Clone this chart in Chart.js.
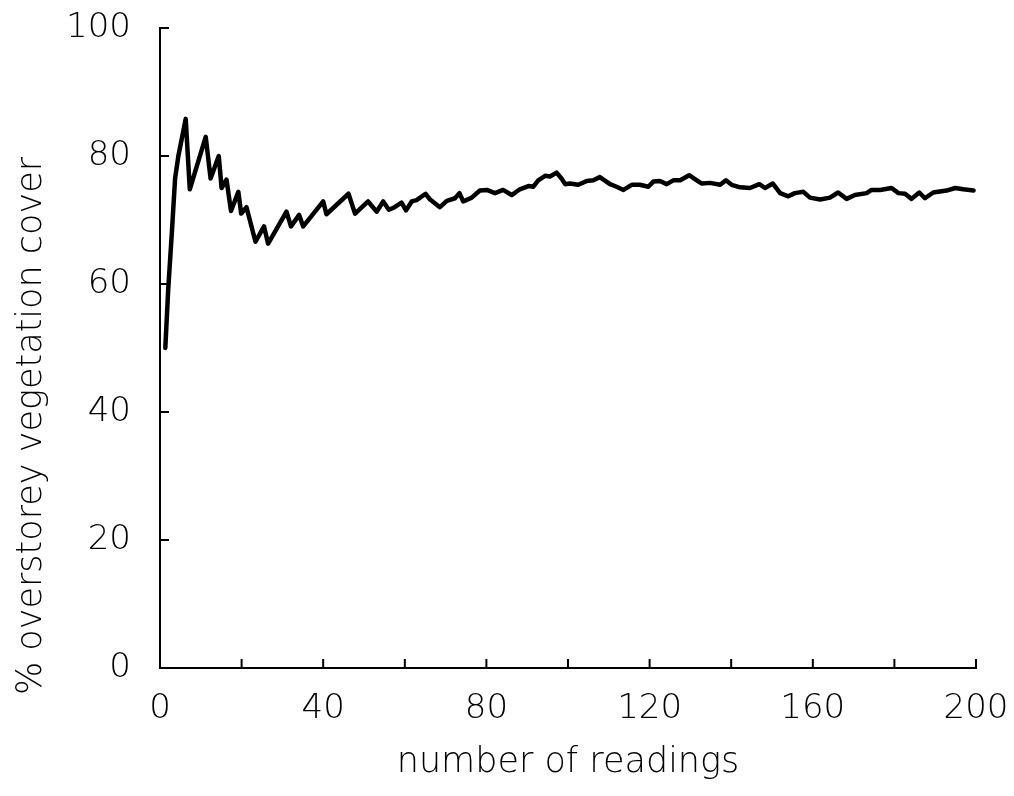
<!DOCTYPE html>
<html>
<head>
<meta charset="utf-8">
<script src="https://cdn.jsdelivr.net/npm/chart.js@4.4.1/dist/chart.umd.min.js"></script>
<style>
  html, body { margin: 0; padding: 0; background: #fff; }
  canvas { display: block; }
</style>
</head>
<body>
<canvas id="coverChart" width="1014" height="796"></canvas>
<script>
// cumulative mean of overstorey cover
const readings = [
  1.3, 2.0, 2.9, 3.7, 4.5, 6.3, 7.3, 11.2, 12.4, 14.4, 15.1, 16.3, 17.4, 19.2, 19.9,
  21.2, 23.4, 25.5, 26.5, 31, 32.1, 34.1, 35.1, 40, 40.8, 46.2, 47.8, 51, 53.1, 54.7,
  56.1, 57.5, 59.2, 60.3, 61.7, 62.9, 65.1, 66.2, 68.6, 70.3, 72.3, 73.4, 74.3, 76.4,
  78.4, 80.1, 82.1, 84.1, 86.2, 88.2, 90.3, 91.5, 92.7, 94.4, 95.6, 97.2, 98.5, 99.3,
  100.5, 102.5, 104.6, 106.2, 107.8, 110.3, 111.9, 113.6, 115.6, 117.6, 119.7, 120.9,
  122.5, 124.2, 125.8, 127.5, 129.7, 131.1, 132.8, 134.8, 137.3, 138.7, 140.1, 142.2,
  144.6, 146.9, 148.3, 150.2, 152, 154, 155.6, 157.7, 159.3, 161.8, 164.2, 166.2,
  168.3, 170.3, 173.2, 174.4, 176.5, 179.3, 181, 182.6, 184.2, 186.1, 187.5, 189.5,
  192.8, 194.9, 196.9, 199.4
];
const cover = [
  50, 59, 68, 76.5, 80, 85.8, 74.8, 83, 76.5, 80, 75, 76.3, 71.4, 74.4, 71,
  72, 66.6, 69, 66.3, 71.3, 69, 70.8, 69, 72.9, 70.9, 74.1, 71, 72.9, 71.3, 72.9,
  71.6, 72, 72.7, 71.5, 72.9, 73.1, 74.1, 73.2, 72, 73, 73.4, 74.2, 72.9, 73.5,
  74.6, 74.7, 74.2, 74.7, 73.9, 74.8, 75.3, 75.2, 76.2, 76.9, 76.8, 77.4, 76.4, 75.6,
  75.7, 75.5, 76.1, 76.2, 76.7, 75.6, 75.2, 74.7, 75.5, 75.5, 75.2, 76,
  76.1, 75.6, 76.2, 76.2, 77, 76.4, 75.7, 75.8, 75.5, 76.2, 75.5, 75.1,
  75, 75.6, 75, 75.7, 74.2, 73.7, 74.2, 74.4, 73.5, 73.2, 73.5, 74.3,
  73.3, 73.9, 74.2, 74.7, 74.7, 75, 74.2, 74.1, 73.3, 74.3, 73.4, 74.3,
  74.6, 75, 74.8, 74.6
];
const xTickLabels = [0, 40, 80, 120, 160, 200];
const yTickLabels = [0, 20, 40, 60, 80, 100];

const xTitle = 'number of readings';
const yTitle = '% overstorey vegetation cover';

const FONT = "'DejaVu Sans', sans-serif";
const TICK_LEN = 9;

// y title drawn by hand so it can sit lower than the axis centre,
// and tick marks pointing into the plot (from the scales' own ticks)
const framePlugin = {
    id: 'frame',
    afterDraw(chart) {
        const ctx = chart.ctx;
        const xs = chart.scales.x;
        const ys = chart.scales.y;
        const area = chart.chartArea;

        ctx.save();
        ctx.strokeStyle = '#000';
        ctx.lineWidth = 2;
        ctx.beginPath();
        xs.ticks.forEach(t => {
            if (t.value === xs.min) return;
            const px = xs.getPixelForValue(t.value);
            ctx.moveTo(px, area.bottom);
            ctx.lineTo(px, area.bottom - TICK_LEN);
        });
        ys.ticks.forEach(t => {
            if (t.value === ys.min) return;
            const py = ys.getPixelForValue(t.value);
            ctx.moveTo(area.left, py);
            ctx.lineTo(area.left + TICK_LEN, py);
        });
        ctx.stroke();

        ctx.translate(32, 426);
        ctx.rotate(-Math.PI / 2);
        ctx.font = "300 35px " + FONT;
        ctx.fillStyle = '#000';
        ctx.textAlign = 'center';
        ctx.textBaseline = 'middle';
        ctx.fillText(yTitle, 0, 0);
        ctx.restore();
    }
};

const ctx = document.getElementById('coverChart').getContext('2d');
new Chart(ctx, {
    type: 'line',
    data: {
        datasets: [{
            data: readings.map((r, i) => ({ x: r, y: cover[i] })),
            borderColor: '#000',
            borderWidth: 4.5,
            borderJoinStyle: 'round',
            borderCapStyle: 'round',
            pointRadius: 0,
            tension: 0,
            fill: false
        }]
    },
    options: {
        responsive: false,
        animation: false,
        layout: { padding: { left: 0, top: 28, right: 38, bottom: 0 } },
        plugins: {
            legend: { display: false },
            tooltip: { enabled: false }
        },
        scales: {
            x: {
                type: 'linear',
                min: 0,
                max: 200,
                border: { display: true, color: '#000', width: 2 },
                grid: { drawOnChartArea: false, drawTicks: false },
                ticks: {
                    stepSize: 20,
                    autoSkip: false,
                    maxRotation: 0,
                    padding: 21,
                    color: '#000',
                    font: { family: FONT, size: 34, weight: 300 },
                    callback: v => xTickLabels.includes(v) ? String(v) : ''
                },
                title: {
                    display: true,
                    text: xTitle,
                    color: '#000',
                    font: { family: FONT, size: 35, weight: 300 },
                    padding: { top: 0, bottom: 12 }
                },
                afterFit(scale) {
                    scale.height = 128;
                    scale.paddingLeft = 0;
                    scale.paddingRight = 0;
                }
            },
            y: {
                type: 'linear',
                min: 0,
                max: 100,
                border: { display: true, color: '#000', width: 2 },
                grid: { drawOnChartArea: false, drawTicks: false },
                ticks: {
                    stepSize: 20,
                    padding: 29,
                    color: '#000',
                    font: { family: FONT, size: 34, weight: 300 },
                    callback: v => yTickLabels.includes(v) ? String(v) : ''
                },
                afterFit(scale) {
                    scale.width = 160;
                    scale.paddingTop = 0;
                    scale.paddingBottom = 0;
                }
            }
        }
    },
    plugins: [framePlugin]
});
</script>
</body>
</html>
